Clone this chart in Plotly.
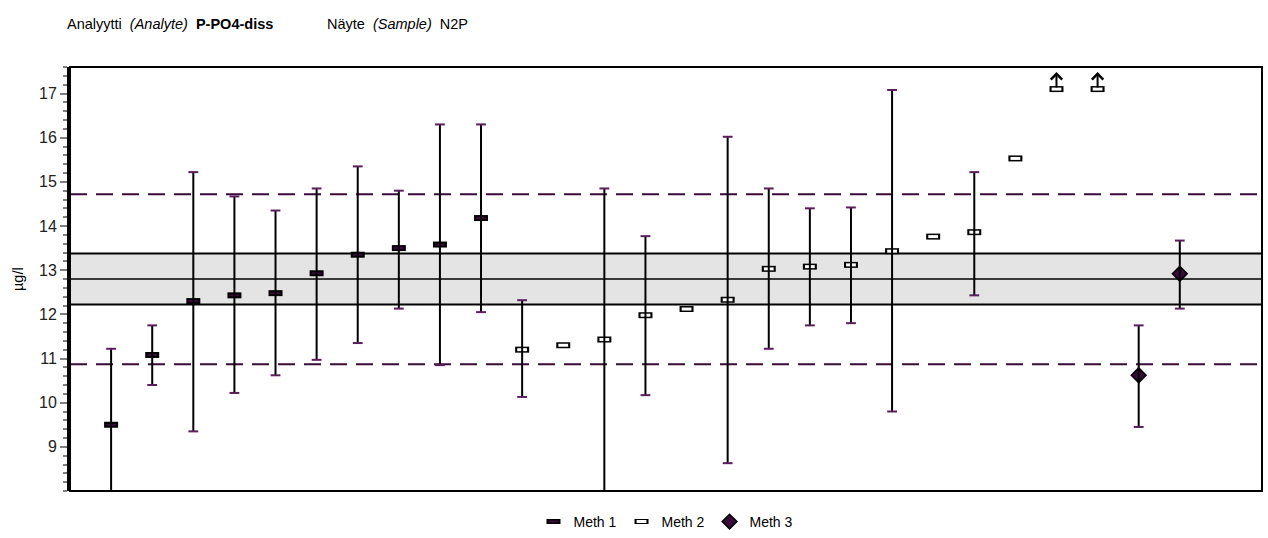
import plotly.graph_objects as go

# ---------------- data ----------------
lab_index = list(range(1, 28))
method = [1] * 10 + [2] * 15 + [3] * 2
result = [9.50, 11.08, 12.30, 12.43, 12.48, 12.93, 13.35, 13.50, 13.58, 14.18,
          11.20, 11.30, 11.43, 11.98, 12.12, 12.33, 13.03, 13.08, 13.12, 13.43,
          13.76, 13.86, 15.53, None, None,
          10.62, 12.92]
upper = [11.22, 11.75, 15.22, 14.67, 14.35, 14.85, 15.35, 14.80, 16.30, 16.30,
         12.32, None, 14.85, 13.77, None, 16.02, 14.85, 14.40, 14.42, 17.08,
         None, 15.22, None, None, None,
         11.75, 13.67]
lower = [7.78, 10.40, 9.35, 10.22, 10.62, 10.97, 11.35, 12.13, 10.85, 12.05,
         10.13, None, 7.98, 10.17, None, 8.63, 11.22, 11.75, 11.80, 9.80,
         None, 12.43, None, None, None,
         9.45, 12.13]
off_scale = [24, 25]          # results above the plotted scale
off_scale_level = 17.1        # where they are drawn
assigned = 12.8
band_low, band_high = 12.22, 13.38
limit_low, limit_high = 10.87, 14.72
yticks = [9, 10, 11, 12, 13, 14, 15, 16, 17]

FONT = "Liberation Sans, Arial, sans-serif"
PURPLE = "#3a0a3a"
CAPC = "#5b1d5b"

shown = [off_scale_level if i in off_scale else v for i, v in zip(lab_index, result)]

fig = go.Figure()

def sel(m):
    xs = [i for i, mm in zip(lab_index, method) if mm == m]
    ys = [s for s, mm in zip(shown, method) if mm == m]
    return xs, ys

x1, y1 = sel(1)
x2, y2 = sel(2)
x3, y3 = sel(3)

# outer (black) layers -> legend 1
fig.add_trace(go.Scatter(x=x1, y=y1, mode="markers", name="Meth 1", legend="legend",
                         marker=dict(symbol="line-ew", size=10, line=dict(width=6, color="black"))))
fig.add_trace(go.Scatter(x=x2, y=y2, mode="markers", name="Meth 2", legend="legend",
                         marker=dict(symbol="line-ew", size=10, line=dict(width=6, color="black"))))
fig.add_trace(go.Scatter(x=x3, y=y3, mode="markers", name="Meth 3", legend="legend",
                         marker=dict(symbol="diamond", size=13, color="black",
                                     line=dict(width=0))))
# inner (coloured) layers -> legend 2, drawn exactly over legend 1
fig.add_trace(go.Scatter(x=x1, y=y1, mode="markers", name="Meth 1", legend="legend2",
                         marker=dict(symbol="line-ew", size=7, line=dict(width=2, color=PURPLE))))
fig.add_trace(go.Scatter(x=x2, y=y2, mode="markers", name="Meth 2", legend="legend2",
                         marker=dict(symbol="line-ew", size=7, line=dict(width=3, color="white"))))
fig.add_trace(go.Scatter(x=x3, y=y3, mode="markers", name="Meth 3", legend="legend2",
                         marker=dict(symbol="diamond", size=9.5, color=PURPLE,
                                     line=dict(width=0))))

# error bars (drawn over the markers, as in the original)
ex, ey, eplus, eminus = [], [], [], []
for i, v, hi, lo in zip(lab_index, result, upper, lower):
    if v is not None and hi is not None:
        ex.append(i); ey.append(v); eplus.append(hi - v); eminus.append(v - lo)
fig.add_trace(go.Scatter(
    x=ex, y=ey, mode="markers", marker=dict(size=1, opacity=0), showlegend=False,
    hoverinfo="skip",
    error_y=dict(type="data", array=eplus, arrayminus=eminus, color="black",
                 thickness=2, width=0)))

# caps
cx, cy = [], []
for i, hi, lo in zip(lab_index, upper, lower):
    if hi is not None:
        cx += [i, i]; cy += [hi, lo]
fig.add_trace(go.Scatter(
    x=cx, y=cy, mode="markers", showlegend=False, hoverinfo="skip",
    marker=dict(symbol="line-ew", size=7, line=dict(width=2, color=CAPC))))

# arrows for off-scale results
for i in off_scale:
    fig.add_annotation(x=i, y=off_scale_level, xref="x", yref="y", text="",
                       showarrow=True, ax=0, ay=17, yshift=17,
                       arrowhead=4, arrowsize=1.1, arrowwidth=2, arrowcolor="black")

# band, assigned value, limits
fig.add_hrect(y0=band_low, y1=band_high, fillcolor="#e4e4e4", line_width=0, layer="below")
for yv in (band_low, band_high):
    fig.add_hline(y=yv, line=dict(color="black", width=2), layer="below")
fig.add_hline(y=assigned, line=dict(color="black", width=1.5), layer="below")
for yv in (limit_low, limit_high):
    fig.add_hline(y=yv, line=dict(color=PURPLE, width=2, dash="17px,9px"), layer="below")

# frame
fig.add_shape(type="rect", xref="paper", yref="paper", x0=0, x1=1, y0=0, y1=1,
              line=dict(color="black", width=2))

fig.update_xaxes(range=[0, 29], showticklabels=False, ticks="", showgrid=False,
                 zeroline=False, showline=False)
fig.update_yaxes(range=[8.0, 17.6], tickvals=yticks, ticks="outside", ticklen=7,
                 tickwidth=1.5, tickcolor="#808080", showgrid=False, zeroline=False,
                 showline=True, linecolor="black", linewidth=3,
                 tickfont=dict(family=FONT, size=16, color="#222222"),
                 minor=dict(dtick=0.2, ticks="outside", ticklen=4, tickwidth=1.5,
                            tickcolor="#808080", showgrid=False))

# header texts and axis title
fig.add_annotation(xref="paper", yref="paper", x=(65 - 70) / 1192, y=(491 - 24) / 424,
                   xanchor="left", yanchor="middle", showarrow=False,
                   text="Analyytti\u00a0\u00a0<i>(Analyte)</i>\u00a0\u00a0<b>P-PO4-diss</b>",
                   font=dict(family=FONT, size=14.5, color="black"))
fig.add_annotation(xref="paper", yref="paper", x=(325 - 70) / 1192, y=(491 - 24) / 424,
                   xanchor="left", yanchor="middle", showarrow=False,
                   text="Näyte\u00a0\u00a0<i>(Sample)</i>\u00a0\u00a0N2P",
                   font=dict(family=FONT, size=14.5, color="black"))
fig.add_annotation(xref="paper", yref="paper", x=(18 - 70) / 1192, y=0.5, textangle=-90,
                   xanchor="center", yanchor="middle", showarrow=False, text="µg/l",
                   font=dict(family=FONT, size=14.5, color="black"))

leg = dict(orientation="h", x=0.5, xanchor="center", y=(491 - 522) / 424,
           yanchor="middle", font=dict(family=FONT, size=14, color="black"),
           itemwidth=30, bgcolor="rgba(0,0,0,0)", borderwidth=0)
leg2 = dict(leg, font=dict(family=FONT, size=14, color="rgba(0,0,0,0)"))
fig.update_layout(
    width=1268, height=538, autosize=False,
    margin=dict(l=70, r=6, t=67, b=47, autoexpand=False),
    paper_bgcolor="white", plot_bgcolor="white",
    showlegend=True,
    legend=leg, legend2=leg2,
)

fig.write_html("out.html")
